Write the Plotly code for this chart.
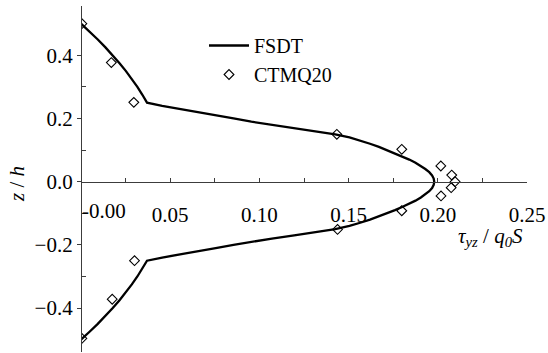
import plotly.graph_objects as go

# FSDT curve: through-thickness coordinate z/h and shear stress tau_yz/(q0 S)
fsdt_z = [0.5, 0.475, 0.45, 0.425, 0.4, 0.375, 0.35, 0.325, 0.3, 0.275, 0.25,
          0.24, 0.23, 0.22, 0.21, 0.2, 0.19, 0.18, 0.17, 0.16, 0.15, 0.14, 0.13,
          0.12, 0.11, 0.1, 0.09, 0.08, 0.07, 0.06, 0.05, 0.04, 0.03, 0.02, 0.01,
          0.0,
          -0.01, -0.02, -0.03, -0.04, -0.05, -0.06, -0.07, -0.08, -0.09, -0.1,
          -0.11, -0.12, -0.13, -0.14, -0.15, -0.16, -0.17, -0.18, -0.19, -0.2,
          -0.21, -0.22, -0.23, -0.24, -0.25,
          -0.275, -0.3, -0.325, -0.35, -0.375, -0.4, -0.425, -0.45, -0.475, -0.5]
fsdt_tau = [0.0, 0.0048, 0.0094, 0.0137, 0.0178, 0.0216, 0.0252, 0.0285, 0.0316, 0.0344, 0.037,
            0.0455, 0.055, 0.065, 0.0755, 0.0855, 0.0955, 0.107, 0.1195, 0.132, 0.1425, 0.1505, 0.1565,
            0.162, 0.167, 0.1715, 0.176, 0.18, 0.184, 0.1875, 0.1905, 0.193, 0.1952, 0.1968, 0.1977,
            0.198,
            0.1977, 0.1968, 0.1952, 0.193, 0.1905, 0.1875, 0.184, 0.18, 0.176, 0.1715,
            0.167, 0.162, 0.1565, 0.1505, 0.1425, 0.132, 0.1195, 0.107, 0.0955, 0.0855,
            0.0755, 0.065, 0.055, 0.0455, 0.037,
            0.0344, 0.0316, 0.0285, 0.0252, 0.0216, 0.0178, 0.0137, 0.0094, 0.0048, 0.0]

# CTMQ20 results
ctmq_z = [0.5, 0.377, 0.251, 0.150, 0.1025, 0.0497, 0.021, 0.0, -0.019, -0.045,
          -0.092, -0.151, -0.25, -0.372, -0.496]
ctmq_tau = [0.0005, 0.017, 0.0296, 0.1434, 0.1798, 0.2017, 0.2078, 0.2097, 0.2075, 0.2018,
            0.1798, 0.1438, 0.030, 0.0175, 0.0005]

x_ticks = [0.05, 0.10, 0.15, 0.20, 0.25]
x_ticktext = ["0.05", "0.10", "0.15", "0.20", "0.25"]
x_minor = [0.025, 0.075, 0.125, 0.175, 0.225]
y_ticks = [-0.4, -0.2, 0.0, 0.2, 0.4]
y_minor = [-0.3, -0.1, 0.1, 0.3]

FONT = "Liberation Serif"
AX = "#3c3c3c"

y_range = [-0.539, 0.556]
x_axis_pos = (0 - y_range[0]) / (y_range[1] - y_range[0])

fig = go.Figure()
fig.add_trace(go.Scatter(x=fsdt_tau, y=fsdt_z, mode="lines", name="FSDT",
                         line=dict(color="black", width=2.3)))
fig.add_trace(go.Scatter(x=ctmq_tau, y=ctmq_z, mode="markers", name="CTMQ20",
                         marker=dict(symbol="diamond-open", size=7.5, color="black",
                                     line=dict(width=1.1, color="black"))))

fig.update_layout(
    width=548, height=353,
    margin=dict(l=81, r=21, t=6, b=1),
    paper_bgcolor="white", plot_bgcolor="white",
    font=dict(family=FONT, size=21, color="black"),
    showlegend=True,
    legend=dict(x=(204 - 81) / 446, y=(352 - 26) / 346, xanchor="left", yanchor="top",
                bgcolor="rgba(0,0,0,0)", font=dict(family=FONT, size=20, color="black"),
                itemwidth=40, tracegroupgap=0),
    xaxis=dict(range=[0, 0.25], showline=True, linecolor=AX, linewidth=1.3,
               anchor="free", position=x_axis_pos,
               ticks="inside", ticklen=4, tickwidth=1.2, tickcolor=AX,
               tickvals=x_ticks, ticktext=x_ticktext, ticklabelstandoff=14,
               minor=dict(tickvals=x_minor, ticks="inside", ticklen=4, tickwidth=1.2, tickcolor=AX),
               showgrid=False, zeroline=False,
               tickfont=dict(family=FONT, size=21, color="black")),
    yaxis=dict(range=y_range, showline=True, linecolor=AX, linewidth=1.3,
               anchor="free", position=0,
               ticks="outside", ticklen=4, tickwidth=1.2, tickcolor=AX,
               tickvals=y_ticks, tickformat=".1f",
               minor=dict(tickvals=y_minor, ticks="inside", ticklen=4, tickwidth=1.2, tickcolor=AX),
               showgrid=False, zeroline=False,
               tickfont=dict(family=FONT, size=21, color="black")),
    annotations=[
        dict(text="-0.00", x=0, xref="x", y=x_axis_pos, yref="paper",
             xanchor="left", yanchor="middle", xshift=-1, yshift=-29.5,
             showarrow=False, font=dict(family=FONT, size=21, color="black")),
        dict(text="<i>τ</i><sub><i>yz</i></sub> / <i>q</i><sub><i>0</i></sub><i>S</i>",
             x=(490 - 81) / 446, xref="paper", y=(352 - 237) / 346, yref="paper",
             xanchor="center", yanchor="middle", showarrow=False,
             font=dict(family=FONT, size=21, color="black")),
        dict(text="<i>z</i> / <i>h</i>", textangle=-90,
             x=(17 - 81) / 446, xref="paper", y=(352 - 184) / 346, yref="paper",
             xanchor="center", yanchor="middle", showarrow=False,
             font=dict(family=FONT, size=21, color="black")),
    ],
)

fig.write_html("out.html")
